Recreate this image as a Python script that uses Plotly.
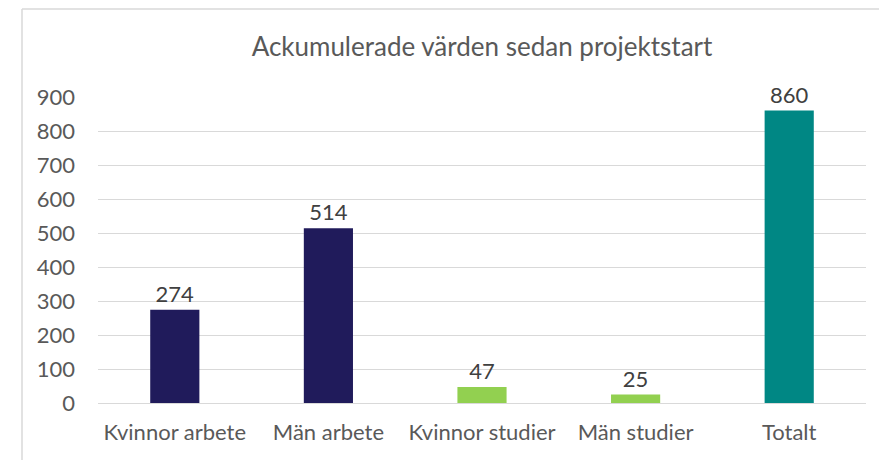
import plotly.graph_objects as go

categories = ["Kvinnor arbete", "Män arbete", "Kvinnor studier", "Män studier", "Totalt"]
values = [274, 514, 47, 25, 860]
bar_colors = ["#201B5B", "#201B5B", "#92D050", "#92D050", "#008784"]
y_ticks = [0, 100, 200, 300, 400, 500, 600, 700, 800, 900]

FONT = "Lato, 'Open Sans', sans-serif"

fig = go.Figure(
    go.Bar(
        x=categories,
        y=values,
        marker=dict(color=bar_colors, line=dict(width=0)),
        text=[str(v) for v in values],
        textposition="outside",
        textfont=dict(family=FONT, size=22, color="#404040"),
        cliponaxis=False,
        width=0.32,
    )
)

fig.update_layout(
    width=879,
    height=460,
    paper_bgcolor="white",
    plot_bgcolor="white",
    margin=dict(l=98, r=13, t=97, b=57),
    showlegend=False,
    uniformtext=dict(mode=False),
    title=dict(
        text="Ackumulerade värden sedan projektstart",
        x=0.5,
        xref="paper",
        y=1 - 47 / 460,
        yref="container",
        yanchor="middle",
        xanchor="center",
        font=dict(family=FONT, size=26, color="#595959"),
    ),
    xaxis=dict(
        showgrid=False,
        showline=False,
        ticks="",
        tickfont=dict(family=FONT, size=22, color="#595959"),
        ticklabelstandoff=14,
    ),
    yaxis=dict(
        range=[0, 900],
        tickvals=y_ticks,
        showgrid=True,
        gridcolor="#D9D9D9",
        gridwidth=1.3,
        zeroline=True,
        zerolinecolor="#D9D9D9",
        zerolinewidth=1.3,
        showline=False,
        ticks="",
        tickfont=dict(family=FONT, size=22, color="#595959"),
        ticklabelstandoff=22,
    ),
    shapes=[
        dict(type="line", xref="paper", yref="paper",
             x0=-76 / 768, x1=-76 / 768, y0=-57 / 306, y1=88 / 306 + 1,
             line=dict(color="#D9D9D9", width=1.5)),
        dict(type="line", xref="paper", yref="paper",
             x0=-76 / 768, x1=1 + 13 / 768, y0=1 + 88 / 306, y1=1 + 88 / 306,
             line=dict(color="#D9D9D9", width=1.5)),
    ],
)

fig.write_html(
    "out.html",
    config={"displayModeBar": False},
    post_script="document.body.style.margin='0px';",
)
